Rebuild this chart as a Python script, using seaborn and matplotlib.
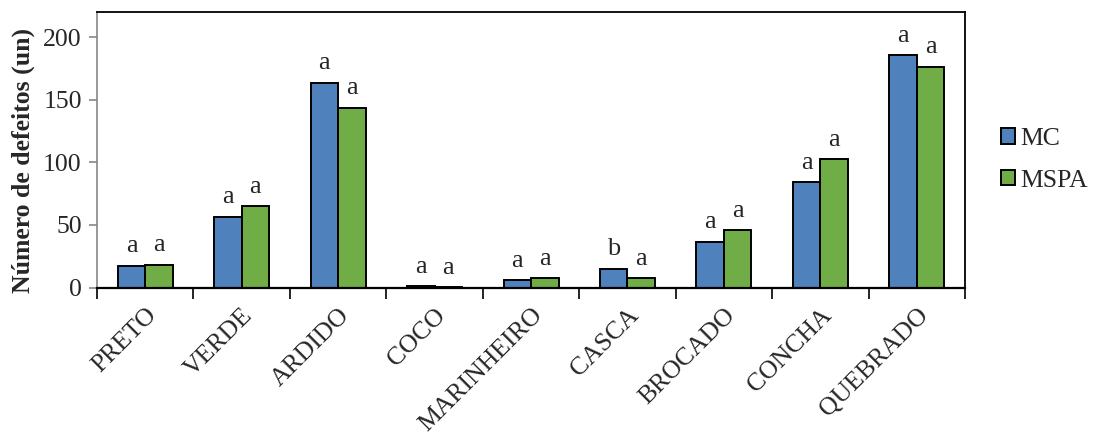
import pandas as pd
import matplotlib.pyplot as plt
import seaborn as sns

# dados
categorias = ["PRETO", "VERDE", "ARDIDO", "COCO", "MARINHEIRO",
              "CASCA", "BROCADO", "CONCHA", "QUEBRADO"]
mc = [17.5, 56.5, 163.5, 1.0, 5.7, 15.0, 36.7, 84.0, 185.3]
mspa = [18.3, 64.7, 143.7, 0.5, 7.6, 7.6, 46.0, 102.6, 176.3]
letras_mc = ["a", "a", "a", "a", "a", "b", "a", "a", "a"]
letras_mspa = ["a", "a", "a", "a", "a", "a", "a", "a", "a"]

df = pd.DataFrame({"Defeito": categorias, "MC": mc, "MSPA": mspa})
data_long = df.melt(id_vars="Defeito", var_name="Método", value_name="Valor")

sns.set_style("white")
plt.rcParams["font.family"] = ["Liberation Serif", "DejaVu Serif"]

fig = plt.figure(figsize=(10.95, 4.38), dpi=100)
ax = fig.add_axes([0.0886, 0.3436, 0.7927, 0.629])

sns.barplot(
    data=data_long, x="Defeito", y="Valor", hue="Método",
    palette=["#4F81BD", "#70AD47"], width=0.57,
    edgecolor="black", linewidth=1.4, saturation=1, ax=ax, legend=True
)

# letras acima das barras
for cont, letras in zip(ax.containers, [letras_mc, letras_mspa]):
    for barra, letra in zip(cont, letras):
        x = barra.get_x() + barra.get_width() / 2
        ax.annotate(letra, (x, barra.get_height()), xytext=(0, 6),
                    textcoords="offset points", ha="center", va="bottom",
                    fontsize=19)

ax.set_ylim(0, 220)
ax.set_xlim(-0.5, len(categorias) - 0.5)
ax.set_yticks([0, 50, 100, 150, 200])
ax.set_xlabel("")
ax.set_ylabel("Número de defeitos (un)", fontsize=18.5, fontweight="bold")
ax.yaxis.set_label_coords(-0.071, 0.46)

# ticks do eixo x entre as categorias
ax.set_xticks(range(len(categorias)))
ax.set_xticklabels(categorias, rotation=45, ha="right", rotation_mode="anchor",
                   fontsize=18.5)
ax.set_xticks([i - 0.5 for i in range(len(categorias) + 1)], minor=True)
ax.tick_params(axis="x", which="major", length=0, pad=12)
ax.tick_params(axis="x", which="minor", length=8, width=1.2, color="black",
               direction="out", bottom=True)
ax.tick_params(axis="y", length=6, width=1.2, color="#868686",
               direction="out", left=True, labelsize=18.5, pad=5)

for lado in ["top", "right", "bottom"]:
    ax.spines[lado].set_color("black")
    ax.spines[lado].set_linewidth(1.3)
ax.spines["bottom"].set_linewidth(1.6)
ax.spines["left"].set_color("#868686")
ax.spines["left"].set_linewidth(1.2)

h, l = ax.get_legend_handles_labels()
ax.get_legend().remove()
fig.legend(h, l, loc="center left", bbox_to_anchor=(0.914, 0.635),
           frameon=False, fontsize=18.5, handlelength=0.55, handleheight=0.55,
           handletextpad=0.2, labelspacing=0.75, borderpad=0,
           borderaxespad=0)

fig.savefig("out.png", dpi=100)
